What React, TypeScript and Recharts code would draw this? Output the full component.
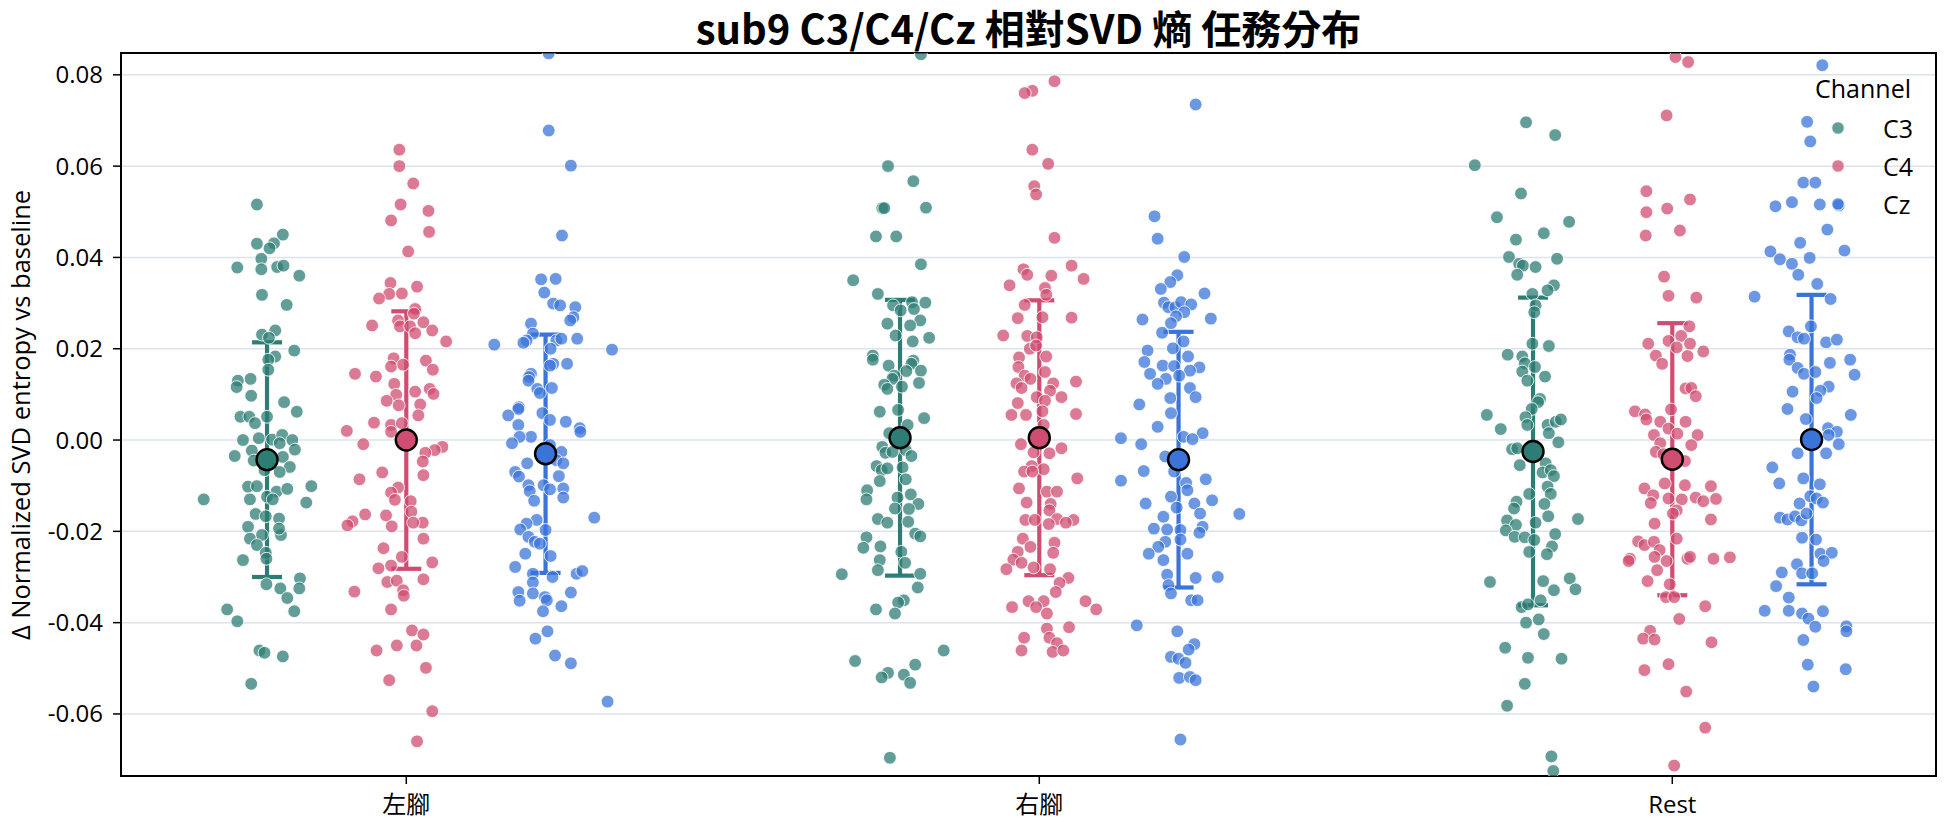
import React from 'react';
import { ScatterChart, Scatter, XAxis, YAxis, CartesianGrid, ErrorBar, ReferenceArea } from 'recharts';

type Pt = [number, number];

const categories = ['左腳', '右腳', 'Rest'];
const channels = ['C3', 'C4', 'Cz'];
const channelColors = ['#2e7d74', '#d04d72', '#3b74d9'];
const dodge = [-0.22, 0, 0.22];
const xTicks = [0, 1, 2];
const yTicks = [-0.06, -0.04, -0.02, 0, 0.02, 0.04, 0.06, 0.08];
const xLimits = [-0.4507, 2.4166];
const yLimits = [-0.07359, 0.08478];

// [jitter (category units), value]
const c3Left: Pt[] = [[-0.016,0.0516],[0.025,0.0450],[-0.016,0.0430],[0.011,0.0431],[0.004,0.0420],[-0.009,0.0397],[-0.047,0.0378],[-0.009,0.0374],[0.016,0.0379],[0.026,0.0382],[0.051,0.0360],[-0.008,0.0318],[0.031,0.0296],[0.013,0.0240],[-0.008,0.0231],[0.003,0.0224],[0.043,0.0196],[0.013,0.0183],[0.002,0.0176],[0.002,0.0154],[-0.046,0.0130],[-0.026,0.0134],[-0.048,0.0116],[-0.025,0.0097],[0.027,0.0083],[0.047,0.0062],
[-0.042,0.0051],[-0.028,0.0051],[-0.019,0.0037],[0,0.0051],[-0.038,0.0000],[-0.013,0.0004],[0.008,0.0001],[0.024,0.0011],[0.040,0.0000],[0.020,-0.0007],[-0.024,-0.0023],[-0.051,-0.0035],[-0.021,-0.0045],[0.044,-0.0021],[0.025,-0.0037],[0.036,-0.0059],[-0.004,-0.0066],[0.020,-0.0070],[-0.030,-0.0102],[-0.016,-0.0101],[0.015,-0.0113],[0.032,-0.0107],[0.070,-0.0101],[0,-0.0124],[0.009,-0.0130],[-0.027,-0.0130],[-0.100,-0.0130],[0.062,-0.0137],[-0.018,-0.0162],[0.019,-0.0172],[-0.002,-0.0167],[-0.030,-0.0190],[-0.008,-0.0208],[0.022,-0.0208],[-0.027,-0.0216],[0.019,-0.0194],[-0.016,-0.0230],[-0.002,-0.0247],[-0.038,-0.0263],[-0.001,-0.0260],[-0.001,-0.0316],[0.021,-0.0325],[0.052,-0.0303],[0.051,-0.0325],[0.032,-0.0346],[-0.063,-0.0371],[0.043,-0.0375],[-0.047,-0.0397],[-0.012,-0.0461],[-0.004,-0.0466],[0.025,-0.0474],[-0.025,-0.0534]];

const c4Left: Pt[] = [[-0.011,0.0636],[-0.011,0.0600],[0.011,0.0562],[-0.009,0.0516],[0.035,0.0502],[-0.024,0.0481],[0.036,0.0456],[0.003,0.0413],[-0.025,0.0344],[0.017,0.0336],[-0.027,0.0320],[-0.007,0.0321],[-0.043,0.0310],[0.014,0.0287],[0.012,0.0277],[-0.013,0.0262],[-0.010,0.0249],[0.006,0.0249],[0.027,0.0258],[-0.054,0.0251],[0.041,0.0240],[0.014,0.0234],[0.063,0.0216],[-0.020,0.0179],[-0.024,0.0161],[-0.005,0.0165],[0.031,0.0174],[0.042,0.0154],[-0.081,0.0145],[-0.048,0.0139],[-0.019,0.0123],[0.014,0.0106],[-0.016,0.0099],[0.037,0.0112],[0.043,0.0101],[-0.031,0.0086],[-0.012,0.0076],[0.022,0.0078],[0.019,0.0054],
[-0.051,0.0038],[-0.024,0.0033],[-0.007,0.0037],[-0.024,0.0018],[-0.094,0.0020],[-0.068,-0.0009],[0.057,-0.0015],[0.045,-0.0022],[0.030,-0.0028],[0.026,-0.0047],[-0.038,-0.0071],[0.027,-0.0077],[-0.074,-0.0086],[-0.013,-0.0104],[-0.024,-0.0115],[-0.018,-0.0131],[0.007,-0.0134],[0.008,-0.0157],[-0.065,-0.0163],[-0.032,-0.0165],[-0.085,-0.0178],[-0.093,-0.0187],[0.026,-0.0181],[0.011,-0.0181],[-0.023,-0.0189],[0.027,-0.0216],[-0.036,-0.0237],[-0.007,-0.0256],[0.041,-0.0268],[-0.044,-0.0281],[-0.024,-0.0275],[0.027,-0.0305],[-0.030,-0.0311],[-0.015,-0.0308],[-0.005,-0.0329],[-0.004,-0.0341],[-0.082,-0.0332],[-0.024,-0.0371],[0.009,-0.0417],[0.027,-0.0426],[-0.047,-0.0461],[-0.015,-0.0450],[0.016,-0.0450],[0.031,-0.0499],[-0.027,-0.0526],[0.041,-0.0594],[0.017,-0.0660]];

const czLeft: Pt[] = [[0.005,0.0847],[0.005,0.0678],[0.040,0.0601],[0.026,0.0448],[-0.007,0.0352],[0.016,0.0353],[-0.002,0.0323],[0.012,0.0299],[0.023,0.0295],[0.047,0.0291],[0.044,0.0269],[0.039,0.0262],[-0.023,0.0255],[-0.020,0.0233],[-0.030,0.0218],[-0.035,0.0213],[0.017,0.0218],[0.025,0.0222],[0.050,0.0222],[-0.081,0.0209],[0.105,0.0198],[0.008,0.0200],[0.012,0.0167],[0.007,0.0163],[0.034,0.0167],[-0.023,0.0145],[-0.026,0.0138],[-0.027,0.0130],[-0.013,0.0112],[-0.009,0.0103],[0.010,0.0114],[-0.042,0.0072],[-0.043,0.0068],[-0.059,0.0054],[-0.005,0.0059],
[0.007,0.0044],[0.032,0.0040],[-0.043,0.0033],[0.054,0.0026],[0.055,0.0018],[-0.023,0.0007],[-0.041,0.0007],[-0.053,-0.0007],[0.007,-0.0011],[0.025,-0.0026],[0.017,-0.0044],[0.028,-0.0051],[-0.029,-0.0051],[-0.048,-0.0070],[-0.042,-0.0080],[0.021,-0.0079],[-0.027,-0.0099],[-0.003,-0.0099],[-0.025,-0.0112],[0.007,-0.0108],[0.028,-0.0106],[0.028,-0.0126],[-0.018,-0.0133],[0.077,-0.0170],[-0.014,-0.0175],[-0.030,-0.0183],[-0.040,-0.0196],[0,-0.0197],[-0.027,-0.0212],[-0.017,-0.0223],[-0.009,-0.0227],[-0.032,-0.0249],[0.008,-0.0254],[-0.048,-0.0278],[-0.020,-0.0293],[0.011,-0.0300],[0.049,-0.0293],[0.058,-0.0287],[-0.020,-0.0312],[-0.043,-0.0333],[-0.020,-0.0336],[-0.001,-0.0344],[-0.041,-0.0352],[0.002,-0.0351],[0.040,-0.0334],[0.025,-0.0364],[-0.004,-0.0375],[0.003,-0.0419],[-0.016,-0.0435],[0.015,-0.0472],[0.040,-0.0489],[0.098,-0.0573]];

const c3Right: Pt[] = [[0.033,0.0845],[-0.019,0.0600],[0.021,0.0567],[-0.028,0.0508],[-0.025,0.0508],[0.041,0.0509],[-0.038,0.0446],[-0.006,0.0446],[0.033,0.0385],[-0.074,0.0350],[-0.035,0.0320],[-0.011,0.0295],[0.019,0.0302],[0.022,0.0287],[0.040,0.0301],[0.001,0.0284],[0.032,0.0262],[-0.020,0.0255],[0.016,0.0251],[-0.007,0.0229],[0.046,0.0224],[0.020,0.0216],[-0.043,0.0185],[-0.043,0.0176],[-0.018,0.0163],[0.021,0.0174],[0.018,0.0167],[0.033,0.0152],[0.010,0.0151],[-0.009,0.0141],[-0.012,0.0134],[-0.025,0.0121],[-0.020,0.0112],[0.003,0.0117],[0.030,0.0125],[-0.032,0.0062],[-0.003,0.0066],[0.038,0.0048],
[0.012,0.0033],[-0.017,0.0015],[-0.028,-0.0015],[-0.023,-0.0028],[-0.012,-0.0026],[0.009,-0.0022],[0.018,-0.0035],[-0.037,-0.0057],[-0.029,-0.0066],[-0.020,-0.0062],[0.004,-0.0060],[-0.032,-0.0090],[0.009,-0.0086],[-0.052,-0.0110],[-0.053,-0.0130],[0.017,-0.0119],[-0.004,-0.0126],[0.029,-0.0140],[-0.008,-0.0150],[0.014,-0.0151],[-0.035,-0.0173],[-0.020,-0.0181],[0.013,-0.0179],[0.024,-0.0205],[0.032,-0.0211],[-0.053,-0.0213],[-0.058,-0.0236],[-0.031,-0.0233],[0.002,-0.0245],[-0.032,-0.0263],[0.008,-0.0269],[-0.035,-0.0285],[-0.092,-0.0294],[0.032,-0.0293],[0.028,-0.0323],[0.006,-0.0351],[-0.003,-0.0356],[-0.038,-0.0371],[-0.008,-0.0380],[0.069,-0.0461],[-0.071,-0.0484],[0.024,-0.0492],[-0.019,-0.0510],[-0.029,-0.0520],[0.006,-0.0514],[0.016,-0.0532],[-0.016,-0.0696]];

const c4Right: Pt[] = [[0.024,0.0786],[-0.011,0.0765],[-0.023,0.0760],[-0.011,0.0636],[0.014,0.0605],[-0.008,0.0556],[-0.005,0.0538],[0.024,0.0443],[-0.025,0.0374],[-0.019,0.0362],[0.019,0.0360],[0.051,0.0382],[0.070,0.0353],[-0.047,0.0339],[0.009,0.0333],[0.011,0.0318],[-0.023,0.0296],[-0.034,0.0267],[0.005,0.0269],[0.051,0.0268],[-0.057,0.0229],[-0.019,0.0228],[-0.004,0.0225],[-0.015,0.0200],[-0.005,0.0207],[-0.032,0.0181],[0.011,0.0183],[-0.033,0.0160],[-0.023,0.0141],[-0.014,0.0134],[0.009,0.0149],[-0.036,0.0124],[-0.028,0.0114],[0.022,0.0124],[0.017,0.0108],[0.058,0.0128],[0.035,0.0094],[-0.004,0.0094],[0.009,0.0086],[-0.034,0.0081],[0.005,0.0063],[-0.044,0.0055],[-0.021,0.0055],[0.058,0.0057],
[0.007,0.0033],[-0.029,-0.0009],[0.035,-0.0018],[-0.009,-0.0027],[0.016,-0.0029],[-0.012,-0.0057],[0.007,-0.0064],[-0.024,-0.0069],[-0.011,-0.0069],[0.060,-0.0084],[-0.032,-0.0106],[0.012,-0.0113],[0.028,-0.0113],[-0.020,-0.0137],[0.018,-0.0140],[0.016,-0.0154],[-0.022,-0.0175],[-0.007,-0.0175],[0.028,-0.0173],[0.054,-0.0175],[0.042,-0.0181],[0.015,-0.0184],[-0.026,-0.0216],[0.024,-0.0225],[-0.014,-0.0234],[-0.034,-0.0245],[0.022,-0.0247],[-0.041,-0.0262],[-0.028,-0.0269],[-0.052,-0.0283],[-0.009,-0.0279],[0.017,-0.0283],[0.046,-0.0302],[0.032,-0.0313],[0.026,-0.0333],[-0.017,-0.0353],[0.007,-0.0353],[-0.043,-0.0366],[-0.005,-0.0366],[0.012,-0.0380],[0.073,-0.0353],[0.090,-0.0371],[0.047,-0.0410],[0.012,-0.0413],[-0.024,-0.0433],[0.016,-0.0433],[0.028,-0.0445],[-0.028,-0.0461],[0.021,-0.0464],[0.038,-0.0461]];

const czRight: Pt[] = [[0.027,0.0735],[-0.038,0.0490],[-0.033,0.0441],[0.009,0.0401],[-0.002,0.0361],[-0.013,0.0346],[-0.028,0.0331],[0.041,0.0321],[-0.023,0.0301],[-0.016,0.0291],[-0.005,0.0291],[0.004,0.0302],[0.020,0.0297],[0.009,0.0280],[-0.004,0.0271],[-0.012,0.0256],[0.051,0.0266],[-0.057,0.0264],[-0.026,0.0235],[0.008,0.0216],[-0.009,0.0201],[-0.049,0.0196],[0.015,0.0183],[-0.054,0.0171],[-0.025,0.0163],[-0.007,0.0162],[0.033,0.0159],[0.018,0.0152],[-0.045,0.0145],[-0.020,0.0134],[-0.033,0.0123],[0.001,0.0141],[0.018,0.0114],[0.027,0.0094],[-0.013,0.0092],[-0.062,0.0078],[-0.012,0.0059],
[-0.033,0.0029],[-0.091,0.0004],[0.038,0.0015],[0.008,0.0007],[0.022,0.0002],[-0.059,-0.0009],[-0.021,-0.0036],[-0.055,-0.0068],[-0.007,-0.0069],[-0.091,-0.0089],[0.043,-0.0086],[0.012,-0.0094],[0.014,-0.0110],[-0.012,-0.0124],[0.053,-0.0132],[-0.052,-0.0139],[0.025,-0.0139],[-0.003,-0.0148],[0.034,-0.0161],[0.096,-0.0162],[-0.024,-0.0168],[0.038,-0.0190],[-0.039,-0.0194],[-0.018,-0.0196],[0.003,-0.0197],[0.033,-0.0203],[0.003,-0.0218],[-0.021,-0.0223],[-0.032,-0.0234],[-0.047,-0.0249],[0.014,-0.0249],[-0.024,-0.0263],[-0.018,-0.0295],[0.027,-0.0302],[0.062,-0.0300],[-0.016,-0.0318],[-0.012,-0.0336],[0.020,-0.0351],[0.030,-0.0351],[-0.066,-0.0406],[-0.002,-0.0419],[0.025,-0.0447],[0.016,-0.0459],[-0.012,-0.0475],[0,-0.0479],[0.011,-0.0488],[0.001,-0.0521],[0.018,-0.0519],[0.027,-0.0526],[0.003,-0.0656]];

const c3Rest: Pt[] = [[-0.011,0.0696],[0.035,0.0668],[-0.092,0.0602],[-0.019,0.0540],[-0.057,0.0488],[0.057,0.0478],[0.017,0.0453],[-0.027,0.0439],[-0.038,0.0401],[0.038,0.0397],[-0.022,0.0386],[-0.016,0.0382],[0.004,0.0379],[-0.025,0.0362],[0.033,0.0339],[0.023,0.0328],[-0.001,0.0320],[0.004,0.0295],[0.002,0.0280],[-0.001,0.0211],[0.025,0.0206],[-0.040,0.0187],[-0.017,0.0183],[-0.013,0.0168],[0.003,0.0160],[-0.017,0.0150],[0.019,0.0139],[-0.009,0.0130],[0.011,0.0090],[0.008,0.0083],[-0.002,0.0068],[-0.073,0.0055],[-0.012,0.0050],
[-0.051,0.0024],[-0.009,0.0033],[0.023,0.0033],[0.036,0.0040],[0.044,0.0045],[0.025,0.0015],[0.040,-0.0005],[-0.033,-0.0020],[-0.025,-0.0018],[-0.021,-0.0055],[0.020,-0.0051],[0.015,-0.0071],[0.028,-0.0066],[0.033,-0.0079],[0.023,-0.0102],[-0.006,-0.0118],[0.028,-0.0118],[0.018,-0.0140],[-0.026,-0.0135],[-0.030,-0.0150],[0.024,-0.0167],[0.071,-0.0173],[-0.041,-0.0176],[-0.027,-0.0186],[0.004,-0.0181],[-0.043,-0.0198],[-0.029,-0.0212],[-0.013,-0.0213],[0.002,-0.0219],[0.035,-0.0206],[0.030,-0.0233],[-0.006,-0.0245],[0.022,-0.0250],[-0.068,-0.0311],[0.016,-0.0309],[0.058,-0.0303],[0.067,-0.0327],[0.033,-0.0329],[0.012,-0.0351],[-0.018,-0.0366],[-0.008,-0.0360],[-0.011,-0.0400],[0.009,-0.0393],[0.017,-0.0425],[-0.044,-0.0455],[-0.008,-0.0477],[0.045,-0.0479],[-0.013,-0.0534],[-0.041,-0.0582],[0.029,-0.0693],[0.032,-0.0725]];

const c4Rest: Pt[] = [[0.005,0.0839],[0.025,0.0828],[-0.009,0.0711],[-0.041,0.0545],[0.028,0.0527],[-0.041,0.0499],[-0.008,0.0507],[-0.042,0.0448],[0.012,0.0459],[-0.013,0.0358],[-0.006,0.0316],[0.038,0.0312],[0.027,0.0249],[-0.038,0.0211],[-0.006,0.0217],[0.014,0.0228],[0.028,0.0211],[0.007,0.0203],[0.049,0.0194],[-0.026,0.0185],[0.024,0.0184],[-0.016,0.0167],[0.021,0.0113],[0.030,0.0114],[0.037,0.0096],[-0.059,0.0063],[-0.043,0.0056],[-0.002,0.0067],
[-0.041,0.0045],[-0.019,0.0040],[0.021,0.0040],[-0.006,0.0025],[0.008,0.0014],[0.040,0.0011],[-0.029,0.0011],[-0.019,-0.0007],[0.030,-0.0011],[-0.026,-0.0026],[-0.014,-0.0031],[0.020,-0.0046],[-0.012,-0.0095],[0.020,-0.0099],[0.061,-0.0101],[-0.044,-0.0106],[-0.030,-0.0121],[-0.006,-0.0128],[0.015,-0.0130],[0.037,-0.0126],[0.049,-0.0134],[0.069,-0.0129],[-0.034,-0.0138],[0.007,-0.0154],[0.001,-0.0161],[0.061,-0.0174],[-0.028,-0.0183],[0.007,-0.0216],[-0.054,-0.0222],[-0.044,-0.0230],[-0.029,-0.0223],[-0.020,-0.0241],[-0.028,-0.0256],[-0.067,-0.0260],[-0.069,-0.0265],[-0.009,-0.0265],[0.024,-0.0260],[0.028,-0.0256],[0.065,-0.0260],[0.091,-0.0257],[-0.024,-0.0285],[-0.039,-0.0309],[-0.004,-0.0316],[-0.010,-0.0344],[0.003,-0.0344],[0.052,-0.0364],[0.011,-0.0392],[-0.035,-0.0418],[-0.046,-0.0435],[-0.028,-0.0437],[0.062,-0.0443],[-0.006,-0.0491],[-0.044,-0.0504],[0.022,-0.0551],[0.052,-0.0630],[0.003,-0.0713]];

const czRest: Pt[] = [[0.017,0.0821],[-0.007,0.0697],[-0.002,0.0654],[-0.013,0.0564],[0.006,0.0564],[-0.057,0.0512],[-0.031,0.0521],[0.013,0.0516],[0.043,0.0514],[0.025,0.0461],[-0.018,0.0432],[0.052,0.0415],[-0.065,0.0413],[-0.050,0.0396],[-0.031,0.0386],[-0.003,0.0399],[-0.021,0.0362],[0.009,0.0342],[-0.090,0.0314],[0.030,0.0309],[-0.001,0.0249],[-0.036,0.0238],[-0.022,0.0225],[-0.012,0.0222],[0.023,0.0214],[0.040,0.0220],[-0.034,0.0187],[-0.035,0.0176],[0.061,0.0176],[0.029,0.0169],[-0.022,0.0158],[-0.012,0.0145],[0.006,0.0149],[0.068,0.0143],[0.027,0.0117],[0.014,0.0108],[-0.030,0.0106],[0.008,0.0092],[-0.038,0.0068],[0.062,0.0055],[-0.009,0.0046],
[0.026,0.0026],[0.040,0.0018],[0.027,0.0011],[0.043,-0.0009],[-0.022,-0.0029],[0.023,-0.0029],[-0.062,-0.0060],[-0.013,-0.0084],[-0.051,-0.0095],[0.013,-0.0097],[-0.002,-0.0123],[0.008,-0.0128],[0.018,-0.0137],[-0.019,-0.0139],[-0.050,-0.0170],[-0.038,-0.0174],[-0.026,-0.0167],[-0.016,-0.0176],[-0.008,-0.0161],[-0.015,-0.0214],[0.007,-0.0218],[0.014,-0.0249],[0.032,-0.0247],[0.019,-0.0265],[-0.023,-0.0272],[-0.047,-0.0290],[-0.015,-0.0292],[0.001,-0.0292],[-0.056,-0.0320],[-0.036,-0.0345],[-0.074,-0.0374],[-0.036,-0.0374],[-0.015,-0.0380],[-0.005,-0.0391],[0.018,-0.0375],[0.006,-0.0409],[0.055,-0.0408],[0.055,-0.0419],[-0.013,-0.0438],[-0.006,-0.0492],[0.054,-0.0502],[0.003,-0.0540]];

const meanC3 = [-0.0043, 0.0005, -0.0025];
const sdC3 = [0.0257, 0.0302, 0.0337];
const meanC4 = [0.0000, 0.0005, -0.0042];
const sdC4 = [0.0282, 0.0301, 0.0298];
const meanCz = [-0.0030, -0.0043, 0.0001];
const sdCz = [0.0261, 0.0280, 0.0317];

const stripGroups: Pt[][][] = [
  [c3Left, c3Right, c3Rest],
  [c4Left, c4Right, c4Rest],
  [czLeft, czRight, czRest],
];
const meanGroups = [meanC3, meanC4, meanCz];
const sdGroups = [sdC3, sdC4, sdCz];

const buildStrip = (groups: Pt[][], ch: number) =>
  groups.flatMap((g, ci) => g.map(([j, v]) => ({ x: ci + dodge[ch] + j, y: v })));
const buildMean = (ch: number) =>
  meanGroups[ch].map((m, ci) => ({ x: ci + dodge[ch], y: m, err: sdGroups[ch][ci] }));

const FONT = "'Open Sans', 'Noto Sans CJK TC', sans-serif";

const makeDot = (color: string) => (p: any) => (
  <circle cx={p.cx} cy={p.cy} r={6.4} fill={color} fillOpacity={0.75} stroke="#ffffff" strokeOpacity={0.85} strokeWidth={1} />
);
const makeMean = (color: string) => (p: any) => (
  <circle cx={p.cx} cy={p.cy} r={10.5} fill={color} stroke="#000000" strokeWidth={2.4} />
);
const emptyShape = () => <g />;

export default function App() {
  return (
    <div style={{ position: 'absolute', left: 0, top: 0, width: 1944, height: 827, background: '#ffffff', fontFamily: FONT, color: '#000' }}>
      <div style={{ position: 'absolute', left: 121, width: 1815, top: 5, textAlign: 'center', fontSize: 40, lineHeight: '44px', fontWeight: 700, fontFamily: "'Noto Sans CJK TC', 'Open Sans', sans-serif" }}>
        sub9 C3/C4/Cz 相對SVD 熵 任務分布
      </div>
      <ScatterChart width={1944} height={827} margin={{ top: 53, right: 8, bottom: 0, left: 0 }}>
        <CartesianGrid vertical={false} stroke="#dce3eb" strokeWidth={1.5} />
        <XAxis
          type="number"
          dataKey="x"
          domain={xLimits}
          ticks={xTicks}
          interval={0}
          allowDataOverflow
          tickFormatter={(v: number) => categories[v]}
          height={51}
          tickSize={8}
          tickMargin={12}
          tick={{ fontSize: 24, fill: '#000', fontFamily: FONT }}
          axisLine={{ stroke: '#000', strokeWidth: 2 }}
          tickLine={{ stroke: '#000', strokeWidth: 1.5 }}
        />
        <YAxis
          type="number"
          dataKey="y"
          domain={yLimits}
          ticks={yTicks}
          interval={0}
          allowDataOverflow
          tickFormatter={(v: number) => v.toFixed(2)}
          width={121}
          tickSize={8}
          tickMargin={10}
          tick={{ fontSize: 24, fill: '#000', fontFamily: FONT }}
          axisLine={{ stroke: '#000', strokeWidth: 2 }}
          tickLine={{ stroke: '#000', strokeWidth: 1.5 }}
        />
        {channels.map((ch, i) => (
          <Scatter key={'s' + ch} name={ch} data={buildStrip(stripGroups[i], i)} shape={makeDot(channelColors[i])} isAnimationActive={false} />
        ))}
        {channels.map((ch, i) => (
          <Scatter key={'e' + ch} data={buildMean(i)} shape={emptyShape} isAnimationActive={false}>
            <ErrorBar dataKey="err" direction="y" width={15} stroke={channelColors[i]} strokeWidth={4.2} isAnimationActive={false} />
          </Scatter>
        ))}
        {channels.map((ch, i) => (
          <Scatter key={'m' + ch} data={buildMean(i)} shape={makeMean(channelColors[i])} isAnimationActive={false} />
        ))}
        <ReferenceArea x1={xLimits[0]} x2={xLimits[1]} y1={yLimits[0]} y2={yLimits[1]} fill="none" stroke="#000" strokeWidth={2} ifOverflow="visible" />
      </ScatterChart>
      <div style={{ position: 'absolute', left: 20, top: 414.5, transform: 'translate(-50%, -50%) rotate(-90deg)', whiteSpace: 'nowrap', fontSize: 25.5, lineHeight: '30px' }}>
        Δ Normalized SVD entropy vs baseline
      </div>
      <div style={{ position: 'absolute', right: 33, top: 72, fontSize: 25, lineHeight: '32px' }}>Channel</div>
      {channels.map((ch, i) => (
        <React.Fragment key={'lg' + ch}>
          <svg style={{ position: 'absolute', left: 1831, top: 121.3 + 38 * i }} width={14} height={14}>
            <circle cx={7} cy={7} r={6.3} fill={channelColors[i]} fillOpacity={0.75} stroke="#fff" strokeWidth={1} />
          </svg>
          <div style={{ position: 'absolute', left: 1883, top: 112.3 + 38 * i, fontSize: 25, lineHeight: '32px' }}>{ch}</div>
        </React.Fragment>
      ))}
    </div>
  );
}
